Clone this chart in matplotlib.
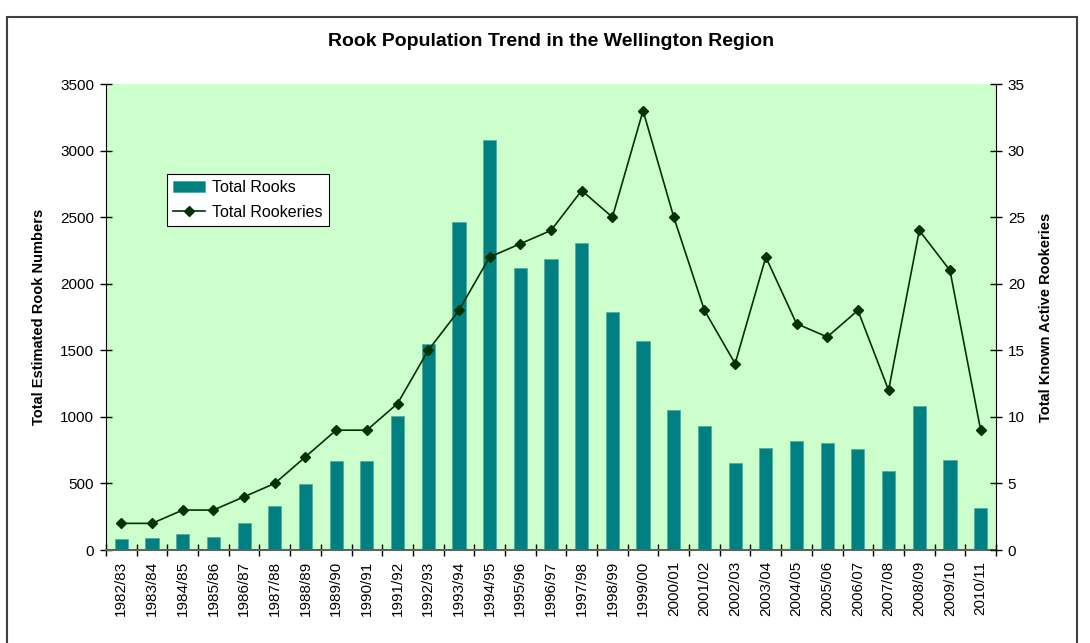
import numpy as np
import matplotlib.pyplot as plt
from matplotlib.patches import Rectangle

plt.rcParams['font.family'] = ['Liberation Sans', 'DejaVu Sans']

seasons = ["1982/83", "1983/84", "1984/85", "1985/86", "1986/87", "1987/88",
           "1988/89", "1989/90", "1990/91", "1991/92", "1992/93", "1993/94",
           "1994/95", "1995/96", "1996/97", "1997/98", "1998/99", "1999/00",
           "2000/01", "2001/02", "2002/03", "2003/04", "2004/05", "2005/06",
           "2006/07", "2007/08", "2008/09", "2009/10", "2010/11"]
total_rooks = [82, 90, 120, 100, 205, 327, 495, 667, 667, 1005, 1545, 2465,
               3078, 2117, 2185, 2305, 1788, 1568, 1052, 930, 655, 767, 822,
               807, 760, 590, 1080, 675, 317]
total_rookeries = [2, 2, 3, 3, 4, 5, 7, 9, 9, 11, 15, 18, 22, 23, 24, 27, 25,
                   33, 25, 18, 14, 22, 17, 16, 18, 12, 24, 21, 9]

W, H = 1090, 643
fig = plt.figure(figsize=(W / 100, H / 100), dpi=100)
fig.patch.set_facecolor('white')

# outer chart border (open at the bottom, like the source screenshot)
fig.patches.append(Rectangle((7 / W, -0.05), (1077 - 7) / W, 1.05 - 17 / H,
                             transform=fig.transFigure, fill=False,
                             edgecolor='#404040', linewidth=1.5, clip_on=False))

ax = fig.add_axes([106 / W, (H - 550) / H, 890 / W, 466 / H])
ax.set_facecolor('#CCFFCC')
x = np.arange(len(seasons))
bars = ax.bar(x, total_rooks, width=0.43, color='#008080',
              edgecolor='#4FA8A0', linewidth=0.5, label='Total Rooks')
ax.set_xlim(-0.5, len(seasons) - 0.5)
ax.set_ylim(0, 3500)
ax.set_yticks(np.arange(0, 3501, 500))
ax.set_xticks(x)
ax.set_xticklabels(seasons, rotation=90, fontsize=11)
ax.set_xticks(np.arange(-0.5, len(seasons)), minor=True)
ax.tick_params(axis='x', which='major', length=0, pad=8)
ax.tick_params(axis='x', which='minor', direction='inout', length=9, width=1)
ax.tick_params(axis='y', direction='inout', length=9, width=1, labelsize=11, pad=4)
ax.spines['top'].set_visible(False)
ax.spines['right'].set_visible(False)
ax.spines['bottom'].set_color('#606060')
ax.spines['bottom'].set_linewidth(1.5)
ax.set_ylabel('Total Estimated Rook Numbers', fontsize=10.5, fontweight='bold',
              labelpad=10)

ax2 = ax.twinx()
line, = ax2.plot(x, total_rookeries, color='#003300', linewidth=1.2,
                 marker='D', markersize=5.5, label='Total Rookeries')
ax2.set_ylim(0, 35)
ax2.set_yticks(np.arange(0, 36, 5))
ax2.tick_params(axis='y', direction='inout', length=9, width=1, labelsize=11, pad=4)
ax2.spines['top'].set_visible(False)
ax2.spines['left'].set_visible(False)
ax2.spines['bottom'].set_visible(False)
ax2.set_ylabel('Total Known Active Rookeries', fontsize=10.5, fontweight='bold',
               labelpad=10)

leg = ax2.legend([bars, line], ['Total Rooks', 'Total Rookeries'],
                 loc='upper left', bbox_to_anchor=(167 / W, 1 - 174 / H),
                 bbox_transform=fig.transFigure, fontsize=11.5, frameon=True,
                 fancybox=False, borderaxespad=0, handlelength=2.0,
                 handletextpad=0.4, labelspacing=0.6, borderpad=0.4)
leg.get_frame().set_edgecolor('black')
leg.get_frame().set_linewidth(0.8)
leg.get_frame().set_alpha(1)

fig.text(551 / W, 1 - 41 / H, 'Rook Population Trend in the Wellington Region',
         ha='center', va='center', fontsize=14, fontweight='bold')

fig.savefig('out.png', dpi=100)
